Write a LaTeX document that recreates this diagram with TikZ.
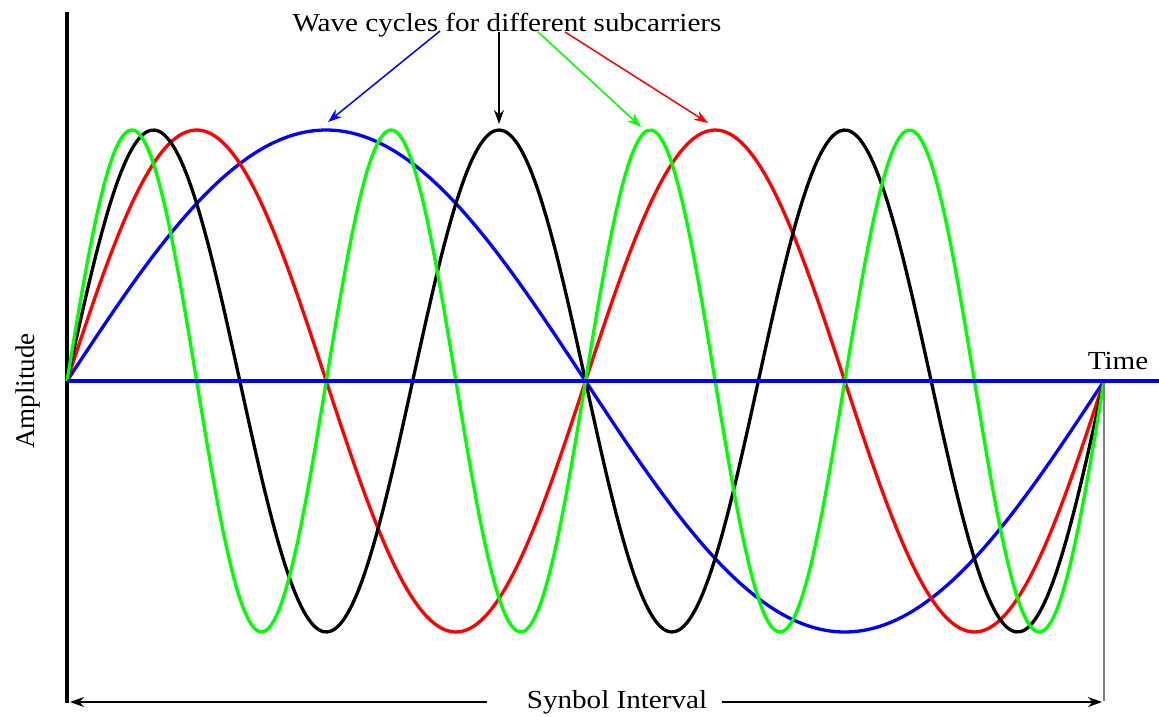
\documentclass[tikz,border=0pt]{standalone}
\usepackage{fontspec}
\setmainfont{Liberation Serif}
\usetikzlibrary{arrows.meta,positioning}

\begin{document}
\begin{tikzpicture}[x=1pt,y=1pt,
  wave/.style={line width=3.3pt,smooth,samples=260,domain=0:1},
  lbl/.style={font=\fontsize{26}{30}\selectfont,inner sep=0pt,xscale=1.12,transform shape},
  pointer/.style={-{Stealth[length=14pt,width=10pt]},line width=1.5pt}]
\useasboundingbox (-67,-335) rectangle (1092,381);
% amplitude axis
\draw[line width=4pt] (0,369) -- (0,-322);
% subcarriers
\draw[wave,blue] plot ({1037*\x},{251*sin(360*\x)});
\draw[wave,red] plot ({1037*\x},{251*sin(720*\x)});
\draw[wave,black] plot ({1037*\x},{251*sin(1080*\x)});
\draw[wave,green] plot ({1037*\x},{251*sin(1440*\x)});
\draw[gray,line width=1.5pt] (1037,0) -- (1037,-320);
% time axis
\draw[blue,line width=3.3pt] (0,0) -- (1092,0);
\node[lbl,anchor=base] (tlbl) at (1051,12) {Time};
\node[font=\fontsize{27}{30}\selectfont,inner sep=0pt,anchor=base,rotate=90] (alabel) at (-32,-10) {Amplitude};
% title and pointers
\node[lbl,anchor=base] (title) at (440,350) {Wave cycles for different subcarriers};
\coordinate (blueFrom) at (373,350);
\coordinate (blackFrom) at (432,349);
\coordinate (greenFrom) at (471,349);
\coordinate (redFrom) at (498,349);
\coordinate (blueTip) at (261,259);
\coordinate (blackTip) at (432,257);
\coordinate (greenTip) at (574,254);
\coordinate (redTip) at (641,258);
\draw[pointer,blue] (blueFrom) -- (blueTip);
\draw[pointer,black] (blackFrom) -- (blackTip);
\draw[pointer,green] (greenFrom) -- (greenTip);
\draw[pointer,red] (redFrom) -- (redTip);
% symbol interval
\node[lbl,anchor=base] (intv) at (550,-327) {Synbol Interval};
\coordinate (iL) at (420,-321);
\coordinate (iLend) at (3,-321);
\coordinate (iR) at (655,-321);
\coordinate (iRend) at (1035,-321);
\draw[pointer] (iL) -- (iLend);
\draw[pointer] (iR) -- (iRend);
\end{tikzpicture}
\end{document}
